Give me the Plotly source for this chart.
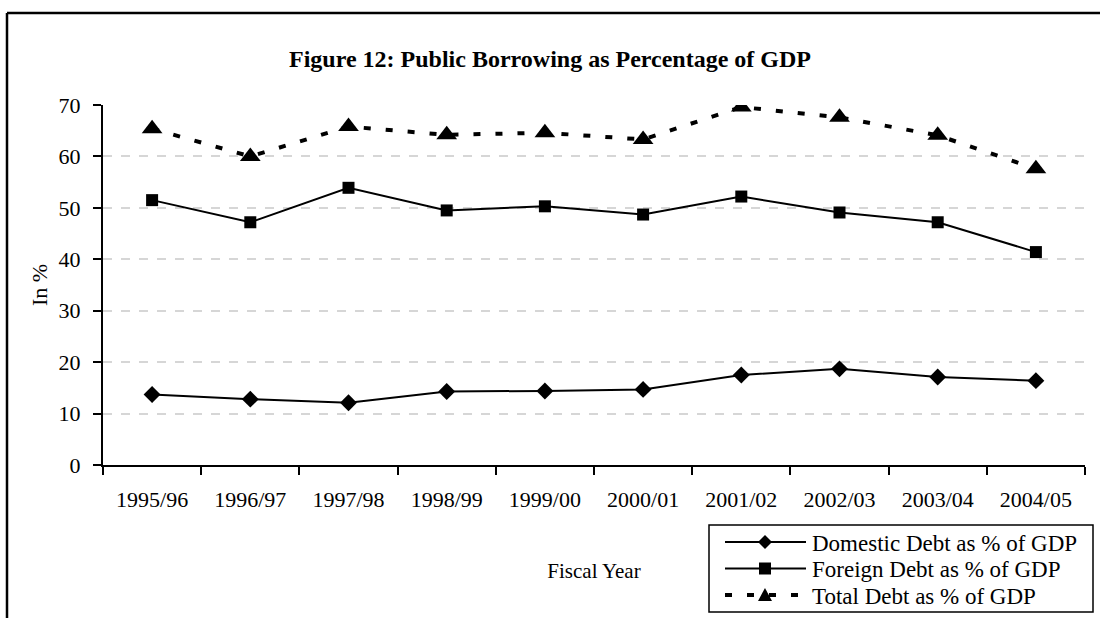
import plotly.graph_objects as go

# Fiscal years and debt ratios (% of GDP)
fiscal_years = ["1995/96", "1996/97", "1997/98", "1998/99", "1999/00",
                "2000/01", "2001/02", "2002/03", "2003/04", "2004/05"]
domestic_debt = [13.7, 12.8, 12.1, 14.3, 14.4, 14.7, 17.5, 18.7, 17.1, 16.4]
foreign_debt = [51.5, 47.2, 53.9, 49.5, 50.3, 48.7, 52.2, 49.1, 47.2, 41.4]
total_debt = [65.4, 60.0, 65.8, 64.2, 64.6, 63.3, 69.6, 67.6, 64.1, 57.6]
y_ticks = [0, 10, 20, 30, 40, 50, 60, 70]
series_names = ["Domestic Debt as % of GDP",
                "Foreign Debt as % of GDP",
                "Total Debt as % of GDP"]

W, H = 1100, 618
M_L, M_R, M_T, M_B = 103, 15, 105, 153
PW, PH = W - M_L - M_R, H - M_T - M_B

def px_x(x):
    return (x - M_L) / PW

def px_y(y):
    return (H - M_B - y) / PH

FONT = "Liberation Serif, Times New Roman, serif"
SOLID = dict(color="black", width=2)
DASHED = dict(color="black", width=4, dash="7px,15px")
MARKERS = [dict(symbol="diamond", size=13, color="black"),
           dict(symbol="square", size=12, color="black"),
           dict(symbol="triangle-up", size=18, color="black")]

fig = go.Figure()
for name, values, line, marker in zip(series_names,
                                      [domestic_debt, foreign_debt, total_debt],
                                      [SOLID, SOLID, DASHED], MARKERS):
    fig.add_trace(go.Scatter(x=fiscal_years, y=values, name=name,
                             mode="lines+markers", line=line, marker=marker,
                             showlegend=False))

shapes = []
# outer frame (top and left edges)
frame_line = dict(color="black", width=2.5)
shapes.append(dict(type="line", xref="paper", yref="paper",
                   x0=px_x(7), y0=px_y(13), x1=px_x(W + 5), y1=px_y(13),
                   line=frame_line))
shapes.append(dict(type="line", xref="paper", yref="paper",
                   x0=px_x(7), y0=px_y(13), x1=px_x(7), y1=px_y(H + 5),
                   line=frame_line))

# legend box with line samples and symbols
LG_X0, LG_X1, LG_Y0, LG_Y1 = 709, 1093, 525, 612
ROW_Y = [542, 568.5, 595]
SAMPLE_X0, SAMPLE_X1, SYMBOL_X, TEXT_X = 725, 806, 765, 810
shapes.append(dict(type="rect", xref="paper", yref="paper",
                   x0=px_x(LG_X0), x1=px_x(LG_X1),
                   y0=px_y(LG_Y0), y1=px_y(LG_Y1),
                   line=dict(color="black", width=1.5), fillcolor="white",
                   layer="above"))

def symbol_path(kind, cx, cy):
    if kind == "diamond":
        pts = [(cx, cy - 7), (cx + 7, cy), (cx, cy + 7), (cx - 7, cy)]
    elif kind == "square":
        pts = [(cx - 6, cy - 6), (cx + 6, cy - 6), (cx + 6, cy + 6), (cx - 6, cy + 6)]
    else:
        pts = [(cx, cy - 7), (cx + 7, cy + 6), (cx - 7, cy + 6)]
    return "M " + " L ".join(f"{px_x(x):.5f},{px_y(y):.5f}" for x, y in pts) + " Z"

annotations = []
for row_y, line, kind, name in zip(ROW_Y, [SOLID, SOLID, DASHED],
                                   ["diamond", "square", "triangle"],
                                   series_names):
    shapes.append(dict(type="line", xref="paper", yref="paper",
                       x0=px_x(SAMPLE_X0), x1=px_x(SAMPLE_X1),
                       y0=px_y(row_y), y1=px_y(row_y),
                       line=line, layer="above"))
    shapes.append(dict(type="path", xref="paper", yref="paper",
                       path=symbol_path(kind, SYMBOL_X, row_y),
                       fillcolor="black", line=dict(width=0), layer="above"))
    annotations.append(dict(text=name, xref="paper", yref="paper",
                            x=px_x(TEXT_X), y=px_y(row_y + 1),
                            xanchor="left", yanchor="middle", showarrow=False,
                            font=dict(family=FONT, size=23, color="black")))

fig.update_layout(
    width=W, height=H,
    margin=dict(l=M_L, r=M_R, t=M_T, b=M_B, autoexpand=False),
    paper_bgcolor="white", plot_bgcolor="white",
    font=dict(family=FONT, size=22, color="black"),
    title=dict(text="<b>Figure 12: Public Borrowing as Percentage of GDP</b>",
               x=0.5, xanchor="center", xref="container",
               y=1 - 59 / H, yanchor="middle", yref="container",
               font=dict(family=FONT, size=24, color="black")),
    showlegend=False,
    shapes=shapes,
    annotations=annotations,
    xaxis=dict(
        type="category", range=[-0.5, 9.5],
        showline=True, linecolor="black", linewidth=2,
        ticks="outside", tickson="boundaries", ticklen=8, tickwidth=1.5,
        tickcolor="black", ticklabelstandoff=14,
        showgrid=False, zeroline=False,
        title=dict(text="Fiscal Year", standoff=52,
                   font=dict(family=FONT, size=21)),
        tickfont=dict(family=FONT, size=22),
    ),
    yaxis=dict(
        range=[0, 70], tickvals=y_ticks,
        showline=True, linecolor="black", linewidth=2,
        ticks="outside", ticklen=8, tickwidth=1.5, tickcolor="black",
        ticklabelstandoff=8,
        showgrid=True, gridcolor="#d6d6d6", gridwidth=1.5, griddash="dash",
        zeroline=False,
        title=dict(text="In %", standoff=5, font=dict(family=FONT, size=22)),
        tickfont=dict(family=FONT, size=22),
    ),
)

fig.write_html("out.html")
